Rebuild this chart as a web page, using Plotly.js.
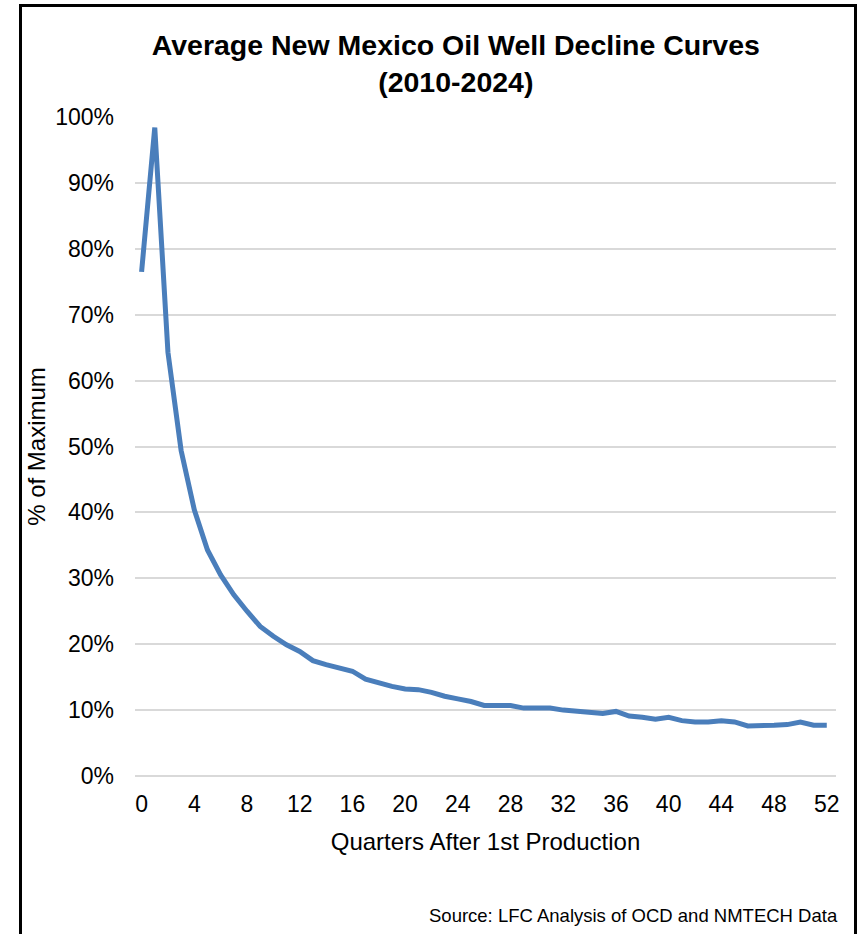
<!DOCTYPE html>
<html>
<head>
<meta charset="utf-8">
<script src="https://cdn.plot.ly/plotly-3.0.1.min.js"></script>
<style>
  html, body { margin: 0; padding: 0; background: #fff; }
  #wrap { position: relative; width: 860px; height: 934px; overflow: hidden; }
  #chart { width: 860px; height: 934px; }
  #frame { position: absolute; left: 19px; top: 4px; width: 838px; height: 960px;
           border: 3px solid #000; box-sizing: border-box; pointer-events: none; }
</style>
</head>
<body>
<div id="wrap">
  <div id="chart"></div>
  <div id="frame"></div>
</div>
<script>
// Quarters after first production
const quarters = [0,1,2,3,4,5,6,7,8,9,10,11,12,13,14,15,16,17,18,19,20,21,22,23,24,25,26,
                  27,28,29,30,31,32,33,34,35,36,37,38,39,40,41,42,43,44,45,46,47,48,49,50,51,52];
// Average production as % of maximum
const pctOfMax = [76.5, 98.4, 64.3, 49.4, 40.4, 34.3, 30.5, 27.5, 25.0, 22.7, 21.2, 19.9, 18.9,
                  17.5, 16.9, 16.4, 15.9, 14.7, 14.1, 13.6, 13.2, 13.1, 12.7, 12.1, 11.7, 11.3,
                  10.7, 10.7, 10.7, 10.3, 10.3, 10.3, 10.0, 9.8, 9.6, 9.5, 9.8, 9.1, 8.9, 8.6,
                  8.9, 8.4, 8.2, 8.2, 8.4, 8.2, 7.6, 7.6, 7.7, 7.8, 8.2, 7.7, 7.7];

const titleLines = ["Average New Mexico Oil Well Decline Curves", "(2010-2024)"];
const xTitle = "Quarters After 1st Production";
const yTitle = "% of Maximum";
const sourceNote = "Source: LFC Analysis of OCD and NMTECH Data";

const FONT = '"Liberation Sans", Arial, sans-serif';

const trace = {
  x: quarters,
  y: pctOfMax,
  type: 'scatter',
  mode: 'lines',
  line: { color: '#4a7ebb', width: 5 },
  hoverinfo: 'skip'
};

const layout = {
  width: 860,
  height: 934,
  margin: { l: 135, r: 24, t: 117, b: 158 },
  paper_bgcolor: '#ffffff',
  plot_bgcolor: '#ffffff',
  showlegend: false,
  font: { family: FONT, color: '#000000' },
  title: {
    text: '<b>' + titleLines.join('<br>') + '</b>',
    font: { family: FONT, size: 28.5, color: '#000000' },
    xref: 'container', x: 0.53, xanchor: 'center',
    yref: 'container', y: 0.941, yanchor: 'top'
  },
  xaxis: {
    range: [-0.5, 52.7],
    tickmode: 'linear', tick0: 0, dtick: 4,
    showgrid: false, zeroline: false, showline: false,
    ticks: '',
    ticklabelstandoff: 12,
    tickfont: { family: FONT, size: 23, color: '#000000' },
    title: { text: xTitle, font: { family: FONT, size: 24, color: '#000000' }, standoff: 17 }
  },
  yaxis: {
    range: [0, 100],
    tickmode: 'linear', tick0: 0, dtick: 10,
    ticksuffix: '%',
    showgrid: true, gridcolor: '#d9d9d9', gridwidth: 2,
    zeroline: true, zerolinecolor: '#d9d9d9', zerolinewidth: 2,
    showline: false, ticks: '',
    ticklabelstandoff: 20,
    tickfont: { family: FONT, size: 23, color: '#000000' },
    title: { text: yTitle, font: { family: FONT, size: 24, color: '#000000' }, standoff: 2 }
  },
  annotations: [{
    text: sourceNote,
    xref: 'paper', x: 1.006, xanchor: 'right',
    yref: 'paper', y: -0.2124, yanchor: 'middle',
    showarrow: false,
    font: { family: FONT, size: 18.5, color: '#000000' }
  }]
};

Plotly.newPlot('chart', [trace], layout, { displayModeBar: false, staticPlot: true });
</script>
</body>
</html>
